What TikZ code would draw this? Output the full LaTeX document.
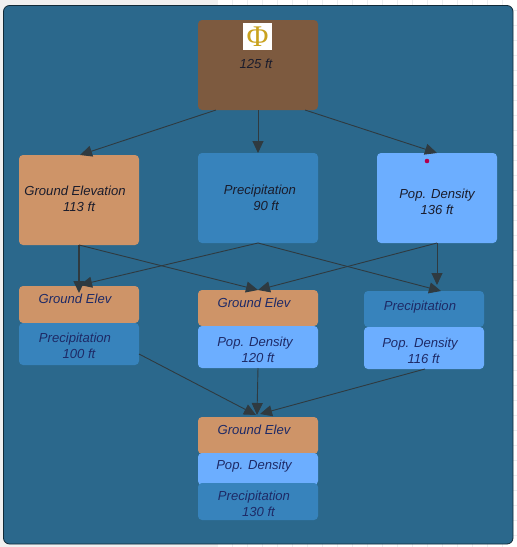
\documentclass[tikz,border=0pt]{standalone}
\usepackage{fontspec}
\setmainfont{Liberation Sans}
\newfontfamily\phifont{Liberation Serif}
\usetikzlibrary{calc,arrows.meta}
\definecolor{panelc}{HTML}{2B688C}
\definecolor{brownc}{HTML}{7D5A3F}
\definecolor{tanc}{HTML}{CE9468}
\definecolor{bluec}{HTML}{3783BC}
\definecolor{skyc}{HTML}{6CAEFF}
\definecolor{inka}{HTML}{1A1C2C}
\definecolor{inkb}{HTML}{1E2A66}
\definecolor{linec}{HTML}{2F3A40}
\definecolor{gridc}{HTML}{ECEEF0}
\definecolor{goldc}{HTML}{C9A21E}
\tikzset{
  x=1pt,y=-1pt,
  boxn/.style={rounded corners=4pt,inner sep=0pt,minimum width=120pt,outer sep=0pt},
  lbl/.style={font=\fontsize{13.1}{16}\selectfont\itshape,align=center,inner sep=0pt},
  top/.style={lbl,text=inka},
  low/.style={lbl,text=inkb},
  edge/.style={draw=linec,line width=0.9pt,-{Triangle[length=12pt,width=11pt]}},
  thick edge/.style={draw=linec,line width=1.6pt,-{Triangle[length=12pt,width=11pt]}},
}
\begin{document}
\begin{tikzpicture}
\useasboundingbox (0,0) rectangle (517,547);
\fill[white] (0,0) rectangle (517,547);
\fill[black!6] (0,0) rectangle (218,547);
\foreach \x in {232,247,...,517} \draw[gridc,line width=0.4pt] (\x,0) -- (\x,6) (\x,544) -- (\x,547);
\foreach \y in {10,25,...,547} \draw[gridc,line width=0.4pt] (513,\y) -- (517,\y);
\draw[fill=panelc,draw=black!60!panelc,line width=0.8pt,rounded corners=6pt] (3.5,5.5) rectangle (513,544);

\node[boxn,fill=brownc,minimum height=90pt] (top) at (258,65) {};
\node[boxn,fill=tanc,minimum height=90pt] (ge) at (79,200) {};
\node[boxn,fill=bluec,minimum height=90pt] (pr) at (258,198) {};
\node[boxn,fill=skyc,minimum height=90pt] (pd) at (437,198) {};

\node[boxn,fill=tanc,minimum height=37pt] (la) at (79,304.5) {};
\node[boxn,fill=bluec,minimum height=42pt] (lb) at (79,344) {};
\node[boxn,fill=tanc,minimum height=36pt] (ma) at (258,308) {};
\node[boxn,fill=skyc,minimum height=42pt] (mb) at (258,347) {};
\node[boxn,fill=bluec,minimum height=36pt] (ra) at (424,309) {};
\node[boxn,fill=skyc,minimum height=42pt] (rb) at (424,348) {};

\node[boxn,fill=tanc,minimum height=37pt] (ba) at (258,435.5) {};
\node[boxn,fill=skyc,minimum height=32pt] (bb) at (258,469) {};
\node[boxn,fill=bluec,minimum height=37pt] (bc) at (258,501.5) {};

\node[fill=white,minimum width=29pt,minimum height=27pt,inner sep=0pt,text=goldc,font=\phifont\fontsize{30}{30}\selectfont] (phi) at (257.5,36.5) {Φ};
\node[top] (t0) at (256,63.5) {125 ft};
\node[top] (t1) at (75,199) {Ground Elevation\\\hspace*{8pt}113 ft};
\node[top] (t2) at (260,198) {Precipitation\\\hspace*{12pt}90 ft};
\node[top] (t3) at (437,202) {Pop. Density\\136 ft};
\node[low] (t4) at (75,299) {Ground Elev};
\node[low] (t5) at (75,346) {Precipitation\\\hspace*{8pt}100 ft};
\node[low] (t6) at (254,303) {Ground Elev};
\node[low] (t7) at (255,350) {Pop. Density\\\hspace*{6pt}120 ft};
\node[low] (t8) at (420,307) {Precipitation};
\node[low] (t9) at (420,351) {Pop. Density\\\hspace*{7pt}116 ft};
\node[low] (t10) at (254,430) {Ground Elev};
\node[low] (t11) at (254,466.5) {Pop. Density};
\node[low] (t12) at (254,504) {Precipitation\\\hspace*{9pt}130 ft};
\fill[red!70!blue] (427,161) circle (2.3pt);

\draw[edge] ($(top.south)+(-42,0)$) -- ($(ge.north)+(1,0)$);
\draw[edge] (top.south) -- (pr.north);
\draw[edge] ($(top.south)+(47,0)$) -- (pd.north);
\draw[thick edge] (ge.south) -- ($(la.north)+(0,7)$);
\draw[edge] (ge.south) -- (ma.north);
\draw[edge] (pr.south) -- ($(la.north)+(1,-1)$);
\draw[edge] (pr.south) -- ($(ra.north)+(17,0)$);
\draw[edge] (pd.south) -- (ma.north);
\draw[edge] (pd.south) -- ($(ra.north)+(13,-6)$);
\draw[edge] ($(lb.east)+(0,10)$) -- ($(ba.north)+(-2,-2)$);
\draw[edge] (mb.south) -- ($(ba.north)+(-1,-2)$);
\draw[edge] ($(rb.south)+(1,0)$) -- ($(ba.north)+(2,-3)$);
\end{tikzpicture}
\end{document}
